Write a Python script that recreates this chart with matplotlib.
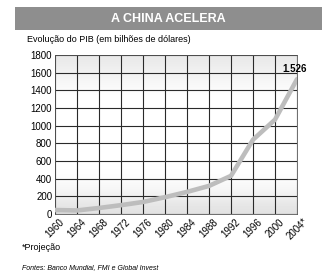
import numpy as np
import matplotlib.pyplot as plt
from matplotlib.patches import Rectangle

plt.rcParams['font.family'] = ['Liberation Sans Narrow', 'Liberation Sans', 'DejaVu Sans']

years = [1960, 1964, 1968, 1972, 1976, 1980, 1984, 1988, 1992, 1996, 2000, 2004]
gdp = [45, 40, 68, 100, 136, 190, 250, 318, 432, 841, 1068, 1526]
year_labels = ['1960', '1964', '1968', '1972', '1976', '1980', '1984', '1988',
               '1992', '1996', '2000', '2004*']
y_ticks = [0, 200, 400, 600, 800, 1000, 1200, 1400, 1600, 1800]

fig = plt.figure(figsize=(3.31, 2.78), dpi=100)
fig.patch.set_facecolor('white')

# title banner
fig.patches.append(Rectangle((15 / 331, 1 - 30 / 278), 307 / 331, 23 / 278,
                             transform=fig.transFigure, facecolor='#8e8e8e',
                             edgecolor='none'))
fig.text(168 / 331, 1 - 18.5 / 278, 'A CHINA ACELERA', color='white',
         fontsize=9, fontweight='bold', ha='center', va='center',
         family=['Liberation Sans', 'DejaVu Sans'])
fig.text(27 / 331, 1 - 40 / 278, 'Evolução do PIB (em bilhões de dólares)',
         fontsize=6.5, ha='left', va='center')

ax = fig.add_axes([55 / 331, 1 - 214 / 278, 242 / 331, 159 / 278])

# soft gray shading like the printed chart
grad = np.array([1.0, 0.35, 0.0, 0.0, 0.0, 0.0, 0.0, 0.0, 0.4, 0.8]).reshape(-1, 1)
ax.imshow(grad, extent=[years[0], years[-1], 0, 1800], aspect='auto',
          cmap='Greys', vmin=0, vmax=5, origin='lower', interpolation='bicubic',
          zorder=0)

ax.set_xlim(years[0], years[-1])
ax.set_ylim(0, 1800)
ax.set_xticks(years)
ax.set_xticklabels(year_labels, rotation=45, fontsize=7)
ax.set_yticks(y_ticks)
ax.set_yticklabels([str(v) for v in y_ticks], fontsize=7)
ax.grid(True, color='#2a2a2a', lw=0.8, zorder=1)
ax.tick_params(length=0, pad=2)
for s in ax.spines.values():
    s.set_color('#555555')
    s.set_linewidth(0.6)

ax.plot(years, gdp, color='#bdbdbd', lw=3.3, solid_capstyle='round', zorder=3)
ax.text(years[-1] - 0.5, gdp[-1] + 55, '1.526', fontsize=7, fontweight='bold',
        ha='center', va='bottom', zorder=4)

fig.text(22 / 331, 1 - 248 / 278, '*Projeção', fontsize=6.5, ha='left', va='center')
fig.text(22 / 331, 1 - 268 / 278, 'Fontes: Banco Mundial, FMI e Global Invest',
         fontsize=5, style='italic', ha='left', va='center')

fig.savefig('out.png', dpi=100)
